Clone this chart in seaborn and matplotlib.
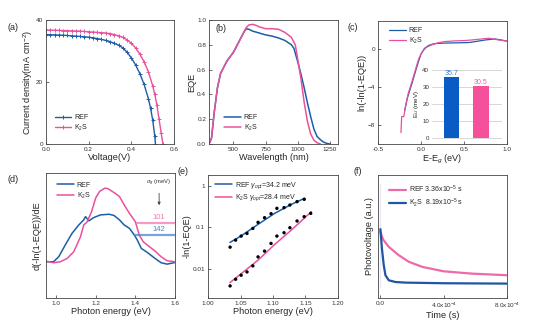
import numpy as np
import pandas as pd
import matplotlib
matplotlib.use("Agg")
import matplotlib.pyplot as plt
import seaborn as sns
from matplotlib.ticker import FixedLocator, FuncFormatter, NullLocator

# ---------------- data ----------------
# (a) J-V
v_ref = [0, 0.02, 0.04, 0.06, 0.08, 0.10, 0.12, 0.14, 0.16, 0.18, 0.20, 0.22, 0.24, 0.26, 0.28,
         0.30, 0.32, 0.34, 0.36, 0.38, 0.40, 0.42, 0.44, 0.46, 0.48, 0.49, 0.50, 0.51, 0.513]
j_ref = [35.3, 35.25, 35.2, 35.15, 35.1, 35.0, 34.9, 34.8, 34.7, 34.6, 34.45, 34.25, 34.0, 33.75, 33.4,
         33.0, 32.5, 31.9, 31.0, 29.6, 27.8, 25.5, 22.7, 19.2, 14.6, 11.6, 7.8, 2.5, 0.0]
v_k2s = [0, 0.02, 0.04, 0.06, 0.08, 0.10, 0.12, 0.14, 0.16, 0.18, 0.20, 0.22, 0.24, 0.26, 0.28,
         0.30, 0.32, 0.34, 0.36, 0.38, 0.40, 0.42, 0.44, 0.46, 0.48, 0.50, 0.51, 0.52, 0.53, 0.54, 0.548]
j_k2s = [36.8, 36.75, 36.7, 36.65, 36.6, 36.55, 36.5, 36.45, 36.4, 36.3, 36.2, 36.1, 36.0, 35.9, 35.8,
         35.6, 35.3, 34.9, 34.4, 33.6, 32.5, 31.0, 29.0, 26.5, 23.3, 18.8, 16.0, 12.5, 8.0, 3.5, 0.0]

# (b) EQE
wl_ref = [315, 330, 350, 375, 400, 450, 500, 550, 580, 600, 620, 650, 700, 750, 800, 850, 900, 950,
          970, 1000, 1025, 1050, 1075, 1100, 1125, 1150, 1175, 1200, 1225, 1250]
eqe_ref = [0.01, 0.05, 0.25, 0.45, 0.57, 0.67, 0.74, 0.84, 0.90, 0.93, 0.925, 0.91, 0.895, 0.88, 0.87,
           0.855, 0.835, 0.80, 0.77, 0.66, 0.56, 0.45, 0.33, 0.22, 0.12, 0.06, 0.035, 0.015, 0.005, 0.0]
wl_k2s = [315, 330, 350, 375, 400, 450, 500, 550, 580, 600, 620, 650, 680, 700, 750, 800, 850, 900,
          950, 980, 1000, 1025, 1050, 1075, 1100, 1125, 1150, 1175]
eqe_k2s = [0.01, 0.05, 0.25, 0.45, 0.57, 0.67, 0.74, 0.84, 0.90, 0.94, 0.96, 0.965, 0.955, 0.945, 0.93,
           0.93, 0.925, 0.90, 0.86, 0.80, 0.68, 0.52, 0.33, 0.18, 0.08, 0.03, 0.01, 0.0]

# (c) Urbach plot
e_ref_c = [-0.19, -0.16, -0.13, -0.105, -0.07, -0.03, 0.0, 0.04, 0.09, 0.15, 0.25, 0.35, 0.45, 0.55,
           0.65, 0.75, 0.86, 0.93, 1.0]
y_ref_c = [-6.5, -5.2, -4.3, -3.6, -2.5, -1.3, -0.5, 0.1, 0.42, 0.6, 0.66, 0.68, 0.7, 0.72,
           0.85, 1.0, 1.1, 1.0, 0.87]
e_k2s_c = [-0.233, -0.225, -0.22, -0.2, -0.18, -0.15, -0.105, -0.06, -0.027, 0.01, 0.06, 0.13, 0.2,
           0.28, 0.4, 0.52, 0.65, 0.79, 0.9, 1.0]
y_k2s_c = [-8.8, -7.1, -7.1, -7.1, -6.0, -4.7, -3.4, -2.0, -1.0, -0.3, 0.2, 0.5, 0.7,
           0.83, 0.9, 0.94, 1.05, 1.18, 1.0, 0.87]
bar_samples = ["REF", "K$_2$S"]
bar_eu = [35.7, 30.5]

# (d) derivative
e_ref_d = [0.95, 0.988, 1.014, 1.047, 1.081, 1.115, 1.14, 1.149, 1.166, 1.19, 1.225, 1.268, 1.293, 1.32,
           1.344, 1.37, 1.395, 1.41, 1.43, 1.46, 1.5, 1.53, 1.56, 1.6]
d_ref = [0.290, 0.290, 0.330, 0.424, 0.517, 0.584, 0.625, 0.651, 0.617, 0.643, 0.665, 0.670, 0.660, 0.625,
         0.584, 0.558, 0.504, 0.464, 0.397, 0.365, 0.316, 0.282, 0.271, 0.284]
e_k2s_d = [0.95, 0.988, 1.022, 1.056, 1.09, 1.124, 1.14, 1.156, 1.18, 1.2, 1.22, 1.247, 1.263, 1.297,
           1.32, 1.344, 1.37, 1.4, 1.42, 1.44, 1.46, 1.5, 1.53, 1.56, 1.6]
d_k2s = [0.295, 0.282, 0.290, 0.316, 0.370, 0.491, 0.584, 0.606, 0.692, 0.799, 0.853, 0.879, 0.874, 0.839,
         0.812, 0.745, 0.678, 0.611, 0.504, 0.450, 0.424, 0.375, 0.330, 0.298, 0.290]
sigma_vals = ["101", "142"]
sigma_level = [0.598, 0.504]
sigma_start = [1.405, 1.395]

# (e) sub-gap absorption
e_pts = [1.034, 1.0425, 1.051, 1.06, 1.069, 1.077, 1.087, 1.097, 1.106, 1.117, 1.126, 1.137, 1.148, 1.158]
a_ref = [0.0328, 0.0485, 0.0606, 0.0703, 0.0929, 0.130, 0.168, 0.210, 0.283, 0.294, 0.340, 0.410, 0.467, None]
a_k2s = [0.00381, 0.00552, 0.0069, 0.0083, 0.0116, 0.0191, 0.0263, 0.0403, 0.0606, 0.073, 0.0964, 0.140,
         0.178, 0.214]
fit_e_ref = [1.0338, 1.0513, 1.0769, 1.1026, 1.1282, 1.1487]
fit_ref = [0.0426, 0.0617, 0.116, 0.214, 0.353, 0.494]
fit_e_k2s = [1.0338, 1.0513, 1.0769, 1.1026, 1.1282, 1.159]
fit_k2s = [0.00458, 0.00757, 0.0159, 0.0381, 0.0846, 0.235]

# (f) transient photovoltage
t_ref = [0, 1e-5, 2e-5, 5.3e-5, 1.16e-4, 1.8e-4, 2.65e-4, 4e-4, 5.8e-4, 8e-4]
pv_ref = [0.54, 0.50, 0.47, 0.416, 0.348, 0.294, 0.253, 0.217, 0.198, 0.185]
t_k2s = [0, 1e-5, 2.1e-5, 3.2e-5, 5.3e-5, 9.5e-5, 1.6e-4, 4e-4, 8e-4]
pv_k2s = [0.56, 0.40, 0.27, 0.185, 0.144, 0.130, 0.125, 0.120, 0.117]
spike_t = [0.0, 0.0]
spike_v = [0.09, 0.93]

# ---------------- style ----------------
sns.set_theme(style="ticks")
plt.rcParams["font.family"] = ["Liberation Sans", "DejaVu Sans"]
plt.rcParams["mathtext.fontset"] = "custom"
plt.rcParams["mathtext.rm"] = "Liberation Sans"
plt.rcParams["mathtext.it"] = "Liberation Sans:italic"

BLUE = "#1d5ea8"
PINK = "#e9519c"
TICK = 4.6
LAB = 6.6
LEG = 5.0

fig = plt.figure(figsize=(5.41, 3.28), dpi=100)
W, H = 541, 328


def px_axes(l, t, r, b):
    return fig.add_axes([l / W, 1 - b / H, (r - l) / W, (b - t) / H])


def style(ax, yticks=True):
    for s in ax.spines.values():
        s.set_linewidth(0.6)
        s.set_color("#444444")
    ax.tick_params(direction="in", length=2, width=0.5, labelsize=TICK, pad=2, colors="#333333")
    if not yticks:
        ax.set_yticks([])


def leg(ax, **kw):
    lg = ax.legend(frameon=False, fontsize=LEG, handlelength=2.4, handletextpad=0.4,
                   labelspacing=0.25, borderaxespad=0.3, **kw)
    return lg

# (a)
ax = px_axes(46, 20, 174, 144)
sns.lineplot(x=v_ref, y=j_ref, ax=ax, color=BLUE, lw=1.0, marker="+", markersize=3,
             markeredgewidth=0.7, markeredgecolor=BLUE, label="REF", sort=False)
sns.lineplot(x=v_k2s, y=j_k2s, ax=ax, color=PINK, lw=1.0, marker="+", markersize=3,
             markeredgewidth=0.7, markeredgecolor=PINK, label="K$_2$S", sort=False)
ax.set_xlim(0, 0.6)
ax.set_ylim(0, 40)
ax.set_xticks([0.0, 0.2, 0.4, 0.6])
ax.set_xticklabels(["0.0", "0.2", "0.4", "0.6"])
ax.set_yticks([0, 20, 40])
ax.set_xlabel("Voltage(V)", fontsize=LAB, labelpad=1)
ax.set_ylabel("Current density(mA cm$^{-2}$)", fontsize=LAB, labelpad=1)
style(ax)
leg(ax, loc="lower left", bbox_to_anchor=(0.03, 0.05))
fig.text(7 / W, 1 - 27 / H, "(a)", fontsize=6.5, va="center")

# (b)
ax = px_axes(209, 20, 338, 144)
sns.lineplot(x=wl_ref, y=eqe_ref, ax=ax, color=BLUE, lw=1.1, label="REF")
sns.lineplot(x=wl_k2s, y=eqe_k2s, ax=ax, color=PINK, lw=1.1, label="K$_2$S")
ax.set_xlim(310, 1312)
ax.set_ylim(0, 1.0)
ax.set_xticks([500, 750, 1000, 1250])
ax.set_yticks([0, 0.2, 0.4, 0.6, 0.8, 1.0])
ax.set_yticklabels(["0.0", "0.2", "0.4", "0.6", "0.8", "1.0"])
ax.set_xlabel("Wavelength (nm)", fontsize=LAB, labelpad=1)
ax.set_ylabel("EQE", fontsize=LAB, labelpad=1)
style(ax)
leg(ax, loc="lower left", bbox_to_anchor=(0.08, 0.05))
ax.text(0.05, 0.93, "(b)", transform=ax.transAxes, fontsize=6.5, va="center")

# (c)
ax = px_axes(378, 21, 507, 144)
sns.lineplot(x=e_ref_c, y=y_ref_c, ax=ax, color=BLUE, lw=0.9, label="REF", sort=False)
sns.lineplot(x=e_k2s_c, y=y_k2s_c, ax=ax, color=PINK, lw=0.9, label="K$_2$S", sort=False)
ax.set_xlim(-0.5, 1.0)
ax.set_ylim(-10, 3)
ax.set_xticks([-0.5, 0.0, 0.5, 1.0])
ax.set_xticklabels(["-0.5", "0.0", "0.5", "1.0"])
ax.set_yticks([0, -4, -8])
ax.set_xlabel("E-E$_g$ (eV)", fontsize=LAB, labelpad=1)
ax.set_ylabel("ln(-ln(1-EQE))", fontsize=LAB, labelpad=1)
style(ax)
leg(ax, loc="upper left", bbox_to_anchor=(0.05, 0.99))
fig.text(348 / W, 1 - 27 / H, "(c)", fontsize=6.5, va="center")

ins = px_axes(432, 69, 502, 139)
df_bar = pd.DataFrame({"sample": bar_samples, "eu": bar_eu})
sns.barplot(data=df_bar, x="sample", y="eu", hue="sample", palette=["#0a5bc4", "#f4509c"],
            ax=ins, width=0.51, legend=False, edgecolor="none", saturation=1)
ins.set_xlim(-0.66, 1.71)
ins.set_ylim(-0.6, 40.6)
ins.set_yticks([0, 10, 20, 30, 40])
ins.set_xticks([])
ins.set_xlabel("")
ins.set_ylabel("E$_U$ (meV)", fontsize=4.6, labelpad=1)
ins.yaxis.grid(True, color="#c8c8c8", lw=0.5)
ins.set_axisbelow(True)
ins.patch.set_alpha(0)
for s in ins.spines.values():
    s.set_visible(False)
ins.tick_params(length=0, labelsize=4.4, pad=2, colors="#333333")
for i, (val, col) in enumerate(zip(bar_eu, ["#3a7fd8", "#f05aa5"])):
    ins.text(i, val + 0.3, f"{val}", ha="center", va="bottom", fontsize=5, color=col)

# (d)
ax = px_axes(46, 173, 175, 298)
sns.lineplot(x=e_ref_d, y=d_ref, ax=ax, color=BLUE, lw=1.1, label="REF", sort=False)
sns.lineplot(x=e_k2s_d, y=d_k2s, ax=ax, color=PINK, lw=1.1, label="K$_2$S", sort=False)
ax.set_xlim(0.95, 1.6)
ax.set_ylim(0, 1)
ax.set_xticks([1.0, 1.2, 1.4, 1.6])
ax.set_xlabel("Photon energy (eV)", fontsize=LAB, labelpad=1)
ax.set_ylabel("d(-ln(1-EQE))/dE", fontsize=LAB, labelpad=3)
style(ax, yticks=False)
leg(ax, loc="upper left", bbox_to_anchor=(0.05, 0.97))
for val, lvl, x0, col in zip(sigma_vals, sigma_level, sigma_start, ["#f07ab5", "#4a86cc"]):
    ax.plot([x0, 1.6], [lvl, lvl], color=col, lw=1.6, alpha=0.75, solid_capstyle="butt")
    ax.text(1.52, lvl + 0.015, val, color=col, fontsize=5.5, ha="center", va="bottom")
ax.text(1.52, 0.92, r"$\sigma_g$ (meV)", fontsize=4.2, ha="center", va="center", color="#333333")
ax.annotate("", xy=(1.52, 0.72), xytext=(1.52, 0.86),
            arrowprops=dict(arrowstyle="-|>", color="#444444", lw=0.6, mutation_scale=4))
fig.text(7 / W, 1 - 179 / H, "(d)", fontsize=6.5, va="center")

# (e)
ax = px_axes(208, 175, 338, 298)
df_e = pd.DataFrame({"E": e_pts + e_pts, "A": a_ref + a_k2s}).dropna()
sns.scatterplot(data=df_e, x="E", y="A", ax=ax, color="black", s=6, edgecolor="none", zorder=3)
sns.lineplot(x=fit_e_ref, y=fit_ref, ax=ax, color=BLUE, lw=1.1,
             label=r"REF $\gamma_{opt}$=34.2 meV")
sns.lineplot(x=fit_e_k2s, y=fit_k2s, ax=ax, color=PINK, lw=1.1,
             label=r"K$_2$S $\gamma_{opt}$=28.4 meV")
ax.set_yscale("log")
ax.set_xlim(1.0, 1.2)
ax.set_ylim(0.00195, 1.8)
ax.set_xticks([1.00, 1.05, 1.10, 1.15, 1.20])
ax.set_xticklabels(["1.00", "1.05", "1.10", "1.15", "1.20"])
ax.yaxis.set_major_locator(FixedLocator([0.01, 0.1, 1]))
ax.yaxis.set_major_formatter(FuncFormatter(lambda v, p: f"{v:g}"))
ax.yaxis.set_minor_locator(NullLocator())
ax.set_xlabel("Photon energy (eV)", fontsize=LAB, labelpad=1)
ax.set_ylabel("-ln(1-EQE)", fontsize=LAB, labelpad=1)
style(ax)
leg(ax, loc="upper left", bbox_to_anchor=(0.02, 1.0))
fig.text(178 / W, 1 - 172 / H, "(e)", fontsize=6.5, va="center")

# (f)
ax = px_axes(378, 175, 507, 298)
sns.lineplot(x=spike_t, y=spike_v, ax=ax, color="#8fa9c6", lw=2.2, sort=False)
sns.lineplot(x=t_ref, y=pv_ref, ax=ax, color="#ec6aa8", lw=1.6, label="REF 3.36x10$^{-5}$ s")
sns.lineplot(x=t_k2s, y=pv_k2s, ax=ax, color="#1f55a6", lw=1.6, label="K$_2$S  8.19x10$^{-5}$ s")
ax.set_xlim(-1.5e-5, 8.0e-4)
ax.set_ylim(0, 1)
ax.set_xticks([0, 4e-4, 8e-4])
ax.set_xticklabels(["0.0", "4.0x10$^{-4}$", "8.0x10$^{-4}$"])
ax.set_xlabel("Time (s)", fontsize=LAB, labelpad=1)
ax.set_ylabel("Photovoltage (a.u.)", fontsize=LAB, labelpad=3)
style(ax, yticks=False)
leg(ax, loc="upper left", bbox_to_anchor=(0.05, 0.97))
fig.text(353 / W, 1 - 172 / H, "(f)", fontsize=6.5, va="center")

fig.savefig("out.png", dpi=100, facecolor="white")
